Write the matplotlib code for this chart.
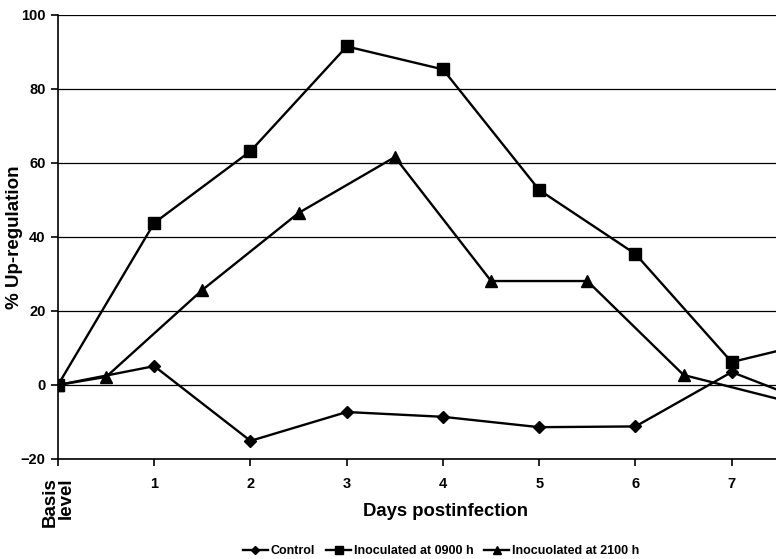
from matplotlib import pyplot as plt

# days on the x axis (0 = basis level)
days_full = [0, 1, 2, 3, 4, 5, 6, 7, 8]
days_half = [0, 0.5, 1.5, 2.5, 3.5, 4.5, 5.5, 6.5, 7.5]

control = [0, 5.1, -15.1, -7.3, -8.6, -11.4, -11.2, 3.5, -6.6]
inoc_0900 = [0, 43.8, 63.2, 91.5, 85.3, 52.7, 35.4, 6.2, 12.5]
inoc_2100 = [0, 2.2, 25.7, 46.5, 61.6, 28.1, 28.1, 2.7, -3.9]

xtick_pos = [0, 1, 2, 3, 4, 5, 6, 7]
xtick_labels = ["Basis\nlevel", "1", "2", "3", "4", "5", "6", "7"]
ytick_pos = [-20, 0, 20, 40, 60, 80, 100]

plt.rcParams['font.family'] = ['Liberation Sans', 'DejaVu Sans']
plt.rcParams['font.weight'] = 'bold'

fig = plt.figure(figsize=(7.76, 5.59), dpi=100)
ax = fig.add_axes([58/776, 100/559, 718/776, 444/559])

# last point of each series lies past the visible edge: line only, no marker
shown = list(range(8))
ax.plot(days_full, control, color='black', lw=1.7, marker='D', ms=6.5, markevery=shown, label='Control')
ax.plot(days_full, inoc_0900, color='black', lw=1.7, marker='s', ms=8, markevery=shown, label='Inoculated at 0900 h')
ax.plot(days_half, inoc_2100, color='black', lw=1.7, marker='^', ms=8, markevery=shown, label='Inocuolated at 2100 h')

ax.set_xlim(0, 7.46)
ax.set_ylim(-20, 100)
ax.set_yticks(ytick_pos)
ax.set_xticks(xtick_pos)
ax.set_xticklabels(xtick_labels)
for lab in ax.get_yticklabels():
	lab.set_fontsize(10.5)
	lab.set_fontweight('bold')
labs = ax.get_xticklabels()
for lab in labs[1:]:
	lab.set_fontsize(10.5)
	lab.set_fontweight('bold')
labs[0].set_rotation(90)
labs[0].set_fontsize(13.5)
labs[0].set_fontweight('bold')
labs[0].set_multialignment('right')
labs[0].set_linespacing(0.95)

ax.yaxis.grid(True, color='black', lw=0.9)
ax.set_axisbelow(True)
for s in ['top', 'right']:
	ax.spines[s].set_visible(False)
ax.spines['left'].set_linewidth(1.2)
ax.spines['bottom'].set_linewidth(1.2)
ax.tick_params(axis='both', direction='out', length=5, width=1.2, colors='black')
ax.tick_params(axis='x', pad=8)
ax.tick_params(axis='y', pad=4)

ax.set_ylabel("% Up-regulation", fontsize=13.5, fontweight='bold')
ax.yaxis.set_label_coords(-0.049, 0.5)
ax.set_xlabel("Days postinfection", fontsize=13.3, fontweight='bold')
ax.xaxis.set_label_coords(0.539, -0.099)

fig.legend(loc='center', bbox_to_anchor=(441/776, 8/559), ncol=3, frameon=False,
		prop={'size': 9, 'weight': 'bold'}, handlelength=2.0, handletextpad=0.2,
		columnspacing=0.9, markerscale=0.7, borderaxespad=0, borderpad=0)

fig.savefig("out.png", dpi=100)
